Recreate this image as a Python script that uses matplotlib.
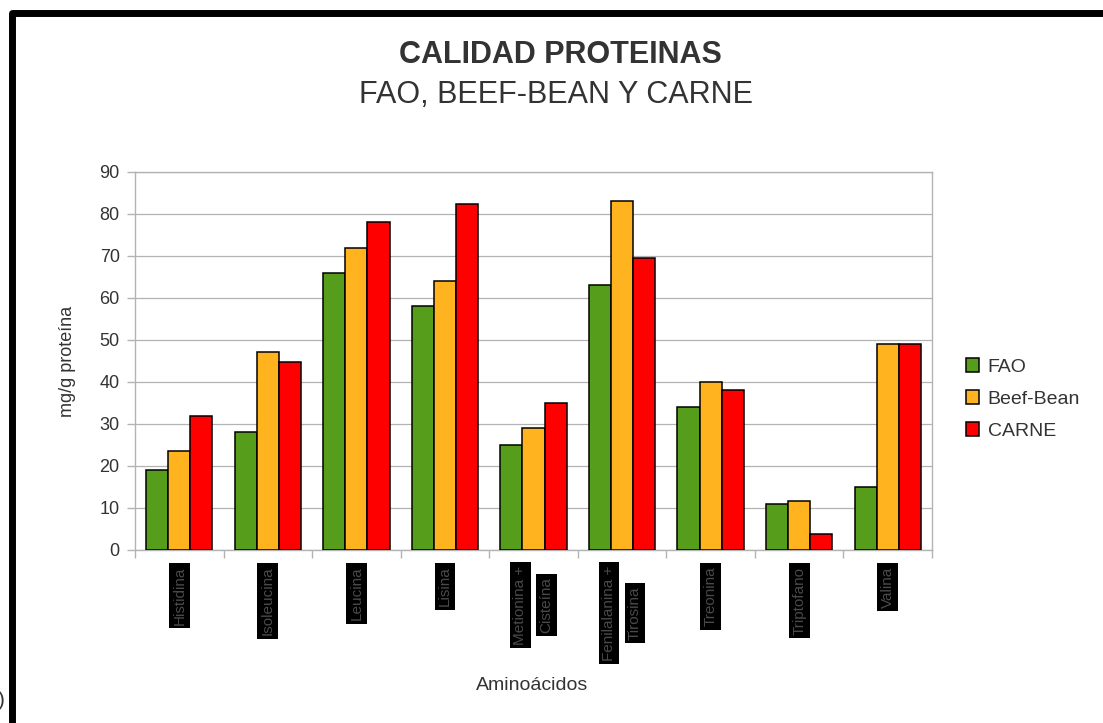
import matplotlib
matplotlib.use("Agg")
import matplotlib.pyplot as plt
from matplotlib.lines import Line2D
import numpy as np

plt.rcParams['font.family'] = ['Liberation Sans', 'DejaVu Sans']

# data
categories = [["Histidina"], ["Isoleucina"], ["Leucina"], ["Lisina"],
              ["Metionina +", "Cisteína"], ["Fenilalanina +", "Tirosina"],
              ["Treonina"], ["Triptofano"], ["Valina"]]
series = ["FAO", "Beef-Bean", "CARNE"]
fao = [19, 28, 66, 58, 25, 63, 34, 11, 15]
beef_bean = [23.6, 47.2, 72, 64, 29, 83, 40, 11.7, 49]
carne = [31.8, 44.8, 78.2, 82.4, 35, 69.6, 38, 3.8, 49]
colors = ["#579d1c", "#ffb31e", "#ff0000"]
yticks = [0, 10, 20, 30, 40, 50, 60, 70, 80, 90]

grey = "#b3b3b3"
txt = "#333333"

fig = plt.figure(figsize=(11.03, 7.23), dpi=100)
ax = fig.add_axes([135 / 1103, 1 - 550 / 723, 797 / 1103, 378 / 723])

x = np.arange(len(categories))
width = 0.25
for k, (name, vals) in enumerate(zip(series, [fao, beef_bean, carne])):
    ax.bar(x + (k - 1) * width, vals, width, color=colors[k], edgecolor="black",
           linewidth=1.1, label=name, zorder=3)

ax.set_xlim(-0.5, len(categories) - 0.5)
ax.set_ylim(0, 90)
ax.set_yticks(yticks)
ax.set_yticklabels([str(v) for v in yticks], fontsize=13, color=txt)
ax.set_xticks(np.arange(-0.5, len(categories), 1))
ax.set_xticklabels([])
ax.tick_params(axis="both", length=6, color=grey, width=1)
ax.tick_params(axis="y", pad=5)
ax.yaxis.grid(True, color=grey, linewidth=0.9, zorder=0)
for s in ax.spines.values():
    s.set_color(grey)
    s.set_linewidth(1)

ax.set_ylabel("mg/g proteína", fontsize=13, color=txt, labelpad=17)
fig.text(532 / 1103, 1 - 685 / 723, "Aminoácidos", fontsize=14, color=txt,
         ha="center", va="center")

# category labels: grey text in black boxes, rotated
box = dict(boxstyle="square,pad=0.22", facecolor="black", edgecolor="none")
lab_kw = dict(xycoords=("data", "axes fraction"), textcoords="offset points",
              rotation=90, ha="center", fontsize=11, color="#4a4a4a", bbox=box)
fig.canvas.draw()
renderer = fig.canvas.get_renderer()
ax_bottom = ax.transAxes.transform((0, 0))[1]
for i, lines in enumerate(categories):
    if len(lines) == 1:
        ax.annotate(lines[0], xy=(i, 0), xytext=(0, -12), va="top", **lab_kw)
    else:
        first = ax.annotate(lines[0], xy=(i, 0), xytext=(-9.4, -11), va="top", **lab_kw)
        ext = first.get_window_extent(renderer)
        cy = (ext.y0 + ext.y1) / 2
        dy = (cy - ax_bottom) * 72 / fig.dpi
        ax.annotate(lines[1], xy=(i, 0), xytext=(9.4, dy), va="center", **lab_kw)

fig.text(560 / 1103, 1 - 55 / 723, "CALIDAD PROTEINAS", fontsize=22, fontweight="bold",
         color=txt, ha="center", va="center")
fig.text(556 / 1103, 1 - 95 / 723, "FAO, BEEF-BEAN Y CARNE", fontsize=22,
         color=txt, ha="center", va="center")

leg = fig.legend(loc="center left", bbox_to_anchor=(948 / 1103, 1 - 399 / 723),
                 frameon=False, fontsize=14, handlelength=0.7, handleheight=0.7,
                 labelspacing=0.75, handletextpad=0.45)
for t in leg.get_texts():
    t.set_color(txt)

# thick black frame on the left and top edges
fig.add_artist(Line2D([11.5 / 1103, 11.5 / 1103, 1.01], [-0.01, 1 - 13 / 723, 1 - 13 / 723],
                      transform=fig.transFigure, color="black", linewidth=5.0,
                      solid_joinstyle="round"))
fig.text(-0.002, 1 - 700 / 723, ")", fontsize=15, color=txt, ha="left", va="center")

fig.savefig("out.png", dpi=100)
